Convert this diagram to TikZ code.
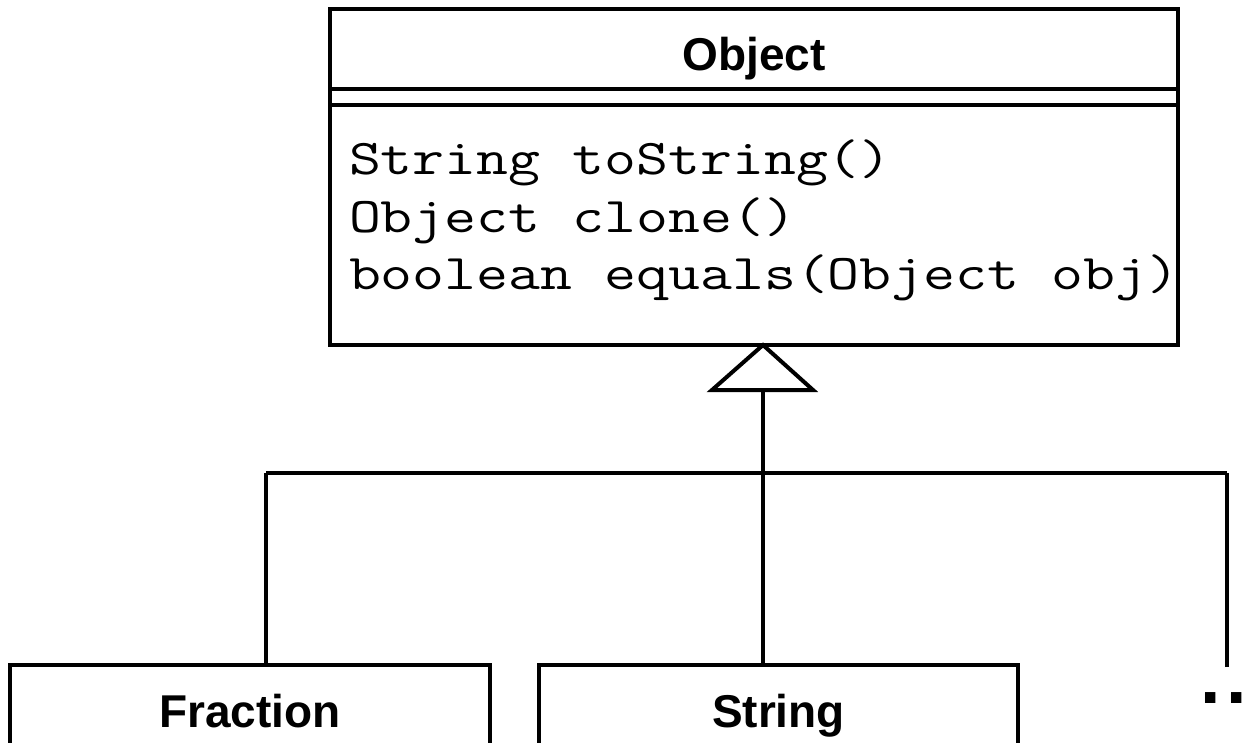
\documentclass[tikz,border=0pt]{standalone}
\usepackage{graphicx}
\usepackage{fontspec}
\setmainfont{Liberation Sans}
\newcommand{\methtext}[1]{\scalebox{1.24}[1]{#1}}
\begin{document}
\begin{tikzpicture}[x=1pt,y=-1pt,line width=4pt,line join=miter,
  box/.style={draw,rectangle,inner sep=0pt,outer sep=0pt,anchor=north west},
  title/.style={font=\fontsize{46}{50}\selectfont\bfseries,anchor=base,inner sep=0pt},
  method/.style={font=\fontsize{50}{57.5}\selectfont\ttfamily,anchor=base west,inner sep=0pt},
  link/.style={draw,line width=4pt}]
\useasboundingbox (0,0) rectangle (1256,743);
\clip (0,0) rectangle (1256,743);
% Object class
\node[box,minimum width=848pt,minimum height=336pt] (obj) at (330,9) {};
\path (obj.north west) ++(0,80) coordinate (h1w);
\path (obj.north east) ++(0,80) coordinate (h1e);
\path (obj.north west) ++(0,96) coordinate (h2w);
\path (obj.north east) ++(0,96) coordinate (h2e);
\draw (h1w) -- (h1e);
\draw (h2w) -- (h2e);
\node[title] (objt) at (754,71) {Object};
\node[method] (m1) at (347,175) {\methtext{String toString()}};
\node[method] (m2) at (347,232.5) {\methtext{Object clone()}};
\node[method] (m3) at (347,290) {\methtext{boolean equals(Object obj)}};
% subclasses
\node[box,minimum width=480pt,minimum height=140pt] (frac) at (10,665) {};
\node[title] (fract) at (250,727) {Fraction};
\node[box,minimum width=479pt,minimum height=140pt] (str) at (539,665) {};
\node[title] (strt) at (778.5,727) {String};
\node[font=\fontsize{73.5}{80}\selectfont\bfseries,anchor=base west,inner sep=0pt] (more) at (1198,703) {.\hspace{6.6pt}.\hspace{6.6pt}.};
% inheritance connectors
\coordinate (apex) at (763,345);
\coordinate (bl) at (712,390);
\coordinate (br) at (813,390);
\coordinate (base) at (763,390);
\coordinate (jm) at (763,473);
\coordinate (jl) at (266,473);
\coordinate (jr) at (1227,473);
\coordinate (mtop) at (1227,667);
\draw (apex) -- (bl) -- (br) -- cycle;
\draw[link] (str.north -| jm) -- (base);
\draw[link] (jl) -- (jr);
\draw[link] (frac.north -| jl) -- (jl);
\draw[link] (mtop) -- (jr);
\end{tikzpicture}
\end{document}
